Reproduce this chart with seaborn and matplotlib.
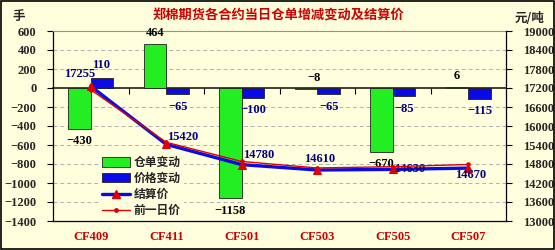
import numpy as np
import pandas as pd
import matplotlib
matplotlib.use("Agg")
import matplotlib.pyplot as plt
import seaborn as sns
from matplotlib.patches import Patch
from matplotlib.lines import Line2D

contracts = ["CF409", "CF411", "CF501", "CF503", "CF505", "CF507"]
receipt_change = [-430, 464, -1158, -8, -670, 6]
price_change = [110, -65, -100, -65, -85, -115]
settle_price = [17255, 15420, 14780, 14610, 14630, 14670]
prev_price = [17145, 15485, 14880, 14675, 14715, 14785]

title = "郑棉期货各合约当日仓单增减变动及结算价"
series_names = ["仓单变动", "价格变动", "结算价", "前一日价"]
left_unit = "手"
right_unit = "元/吨"
left_ticks = list(range(-1400, 601, 200))
right_ticks = list(range(13000, 19001, 600))

sns.set_theme(style="white")
CJK = ["Noto Sans CJK SC", "DejaVu Sans"]
NUM = "Liberation Serif"
plt.rcParams["font.family"] = CJK
plt.rcParams["axes.unicode_minus"] = True

BG = "#FFFFDD"
GREEN = "#22EE22"
BLUE = "#0A0AE6"
NAVY = "#000080"
RED = "#E00000"
TRED = "#CC0000"

fig = plt.figure(figsize=(5.55, 2.5), dpi=100, facecolor=BG)
ax = fig.add_axes([53 / 555, 1 - 221 / 250, 453 / 555, 190 / 250])
ax.set_facecolor(BG)

df = pd.DataFrame({
    "contract": contracts * 2,
    "value": receipt_change + price_change,
    "series": [series_names[0]] * 6 + [series_names[1]] * 6,
})
sns.barplot(data=df, x="contract", y="value", hue="series", order=contracts,
            hue_order=series_names[:2], palette=[GREEN, BLUE], width=0.6,
            saturation=1, edgecolor="#202020", linewidth=0.6, legend=False, ax=ax)

ax.set_xlim(-0.5, 5.5)
ax.set_ylim(-1400, 600)
ax.set_yticks(left_ticks)
ax.set_yticklabels([f"{v}".replace("-", "\u2212") for v in left_ticks],
                   fontfamily=NUM, fontweight="bold", fontsize=9)
ax.set_xticks(range(6))
ax.set_xticklabels(contracts, fontfamily=NUM, fontweight="bold", fontsize=9, color=TRED)
ax.tick_params(axis="x", length=0, pad=7)
ax.tick_params(axis="y", length=4, width=0.8, color="black", direction="out", pad=8, left=True)
ax.set_xlabel("")
ax.set_ylabel("")
for y in left_ticks[1:-1]:
    if y != 0:
        ax.axhline(y, color="#B0B0B0", lw=0.7, ls=(0, (4, 3)), zorder=0)
for s in ["left", "bottom"]:
    ax.spines[s].set_color("black")
    ax.spines[s].set_linewidth(0.9)
ax.spines["top"].set_color("#909090")
ax.spines["top"].set_linewidth(0.8)
ax.spines["right"].set_visible(False)

# zero line with category boundary ticks
sec = ax.secondary_xaxis(0.7)
sec.set_xticks([0.5, 1.5, 2.5, 3.5, 4.5])
sec.set_xticklabels([])
sec.tick_params(direction="in", length=4, width=0.8, color="black")
sec.spines["bottom"].set_color("black")
sec.spines["bottom"].set_linewidth(1.0)

# bar value labels
off = 0.15
for i, v in enumerate(receipt_change):
    above = v >= 0 or abs(v) < 50
    ax.annotate(f"{v}".replace("-", "\u2212"), (i - off, v),
                xytext=(6 if v < 0 and above else 0, 8 if above else -9),
                textcoords="offset points", ha="center", va="center",
                fontfamily=NUM, fontweight="bold", fontsize=9, color="black")
for i, v in enumerate(price_change):
    ax.annotate(f"{v}".replace("-", "\u2212"), (i + off, v),
                xytext=(-1 if v >= 0 else 0, 9 if v >= 0 else -9),
                textcoords="offset points", ha="center", va="center",
                fontfamily=NUM, fontweight="bold", fontsize=9, color=NAVY)

ax2 = ax.twinx()
ax2.set_ylim(13000, 19000)
ax2.set_yticks(right_ticks)
ax2.set_yticklabels([str(v) for v in right_ticks], fontfamily=NUM, fontweight="bold", fontsize=9)
ax2.tick_params(axis="y", right=True, length=4, width=0.8, color="black", direction="out", pad=8)
ax2.grid(False)
for s in ["left", "top", "bottom"]:
    ax2.spines[s].set_visible(False)
ax2.spines["right"].set_color("black")
ax2.spines["right"].set_linewidth(0.9)

xs = np.arange(6)
sns.lineplot(x=xs, y=settle_price, ax=ax2, color=BLUE, lw=2.4, marker="^",
             markersize=6, markerfacecolor=RED, markeredgecolor=RED, zorder=3)
sns.lineplot(x=xs, y=prev_price, ax=ax2, color=RED, lw=1.0, marker="o",
             markersize=2.5, markerfacecolor=RED, markeredgecolor=RED, zorder=4)

price_offsets = [(-8, 8.5), (12, 5), (12, 7), (2, 8), (12, 0), (2, -5)]
for i, (v, o) in enumerate(zip(settle_price, price_offsets)):
    ax2.annotate(str(v), (i, v), xytext=o, textcoords="offset points", ha="center",
                 va="center", fontfamily=NUM, fontweight="bold", fontsize=9, color=NAVY)

handles = [
    Patch(facecolor=GREEN, edgecolor="#202020", linewidth=0.6),
    Patch(facecolor=BLUE, edgecolor="#202020", linewidth=0.6),
    Line2D([0], [0], color=BLUE, lw=2.4, marker="^", markersize=6,
           markerfacecolor=RED, markeredgecolor=RED),
    Line2D([0], [0], color=RED, lw=1.0, marker="o", markersize=2.5,
           markerfacecolor=RED, markeredgecolor=RED),
]
leg = ax2.legend(handles, series_names, loc="upper left", bbox_to_anchor=(0.09, 0.385),
                 frameon=True, facecolor=BG, edgecolor=BG, framealpha=1,
                 prop={"family": CJK, "weight": "bold", "size": 8.5},
                 handlelength=2.4, handleheight=0.8, labelspacing=0.25,
                 handletextpad=0.3, borderpad=0.2)

fig.text(278 / 555, 1 - 16 / 250, title, ha="center", va="center", color=TRED,
         fontsize=9.5, fontweight="bold", family=CJK)
fig.text(12 / 555, 1 - 16 / 250, left_unit, ha="left", va="center",
         fontsize=9, fontweight="bold", family=CJK)
fig.text(530 / 555, 1 - 18 / 250, right_unit, ha="center", va="center",
         fontsize=9, fontweight="bold", family=CJK)

fig.patches.append(plt.Rectangle((0.002, 0.004), 0.996, 0.992, transform=fig.transFigure,
                                 fill=False, edgecolor="black", lw=1.2))

fig.savefig("out.png", dpi=100, facecolor=BG)
